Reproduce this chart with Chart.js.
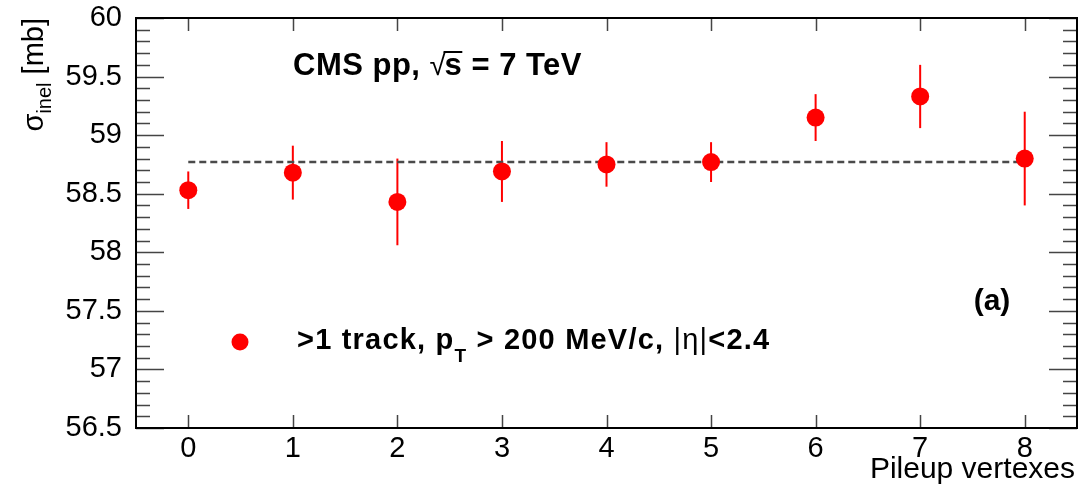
<!DOCTYPE html>
<html>
<head>
<meta charset="utf-8">
<script src="https://cdn.jsdelivr.net/npm/chart.js@4"></script>
<style>
  html, body { margin: 0; padding: 0; background: #fff; }
  #wrap { width: 1092px; height: 489px; }
</style>
</head>
<body>
<div id="wrap"><canvas id="xsec"></canvas></div>
<script>
// inelastic cross section vs number of pileup vertices
const pileup = [0, 1, 2, 3, 4, 5, 6, 7, 8];
const sigmaInel = [58.53, 58.68, 58.43, 58.69, 58.75, 58.77, 59.15, 59.33, 58.80];
const sigmaErr = [0.16, 0.23, 0.37, 0.26, 0.19, 0.17, 0.20, 0.27, 0.40];
const meanSigma = 58.77;

const xTicks = [0, 1, 2, 3, 4, 5, 6, 7, 8];
const yTicks = [56.5, 57, 57.5, 58, 58.5, 59, 59.5, 60];

const FONT = '"Liberation Sans", Arial, Helvetica, sans-serif';
const RED = "#ff0000";

// draws a list of [text, font, dy] pieces left to right
function drawRun(ctx, x, y, parts) {
  for (const [txt, font, dy] of parts) {
    ctx.font = font;
    ctx.fillText(txt, x, y + (dy || 0));
    x += ctx.measureText(txt).width;
  }
  return x;
}

// keep the plot frame fixed, no extra room for edge labels
function noPad(s) {
  s.paddingTop = s.paddingBottom = s.paddingLeft = s.paddingRight = 0;
}

const rootStyle = {
  id: "rootStyle",
  beforeDatasetsDraw(chart) {
    const { ctx } = chart;
    const xs = chart.scales.x, ys = chart.scales.y;
    ctx.save();
    ctx.strokeStyle = RED;
    ctx.lineWidth = 2;
    pileup.forEach((p, i) => {
      const px = xs.getPixelForValue(p);
      ctx.beginPath();
      ctx.moveTo(px, ys.getPixelForValue(sigmaInel[i] - sigmaErr[i]));
      ctx.lineTo(px, ys.getPixelForValue(sigmaInel[i] + sigmaErr[i]));
      ctx.stroke();
    });
    ctx.restore();
  },
  afterDraw(chart) {
    const { ctx, chartArea: a } = chart;
    const xs = chart.scales.x, ys = chart.scales.y;
    ctx.save();

    // tick marks inside the frame
    ctx.strokeStyle = "#444";
    ctx.lineWidth = 1.5;
    ctx.beginPath();
    for (let k = 0; k <= 35; k++) {
      const v = 56.5 + k * 0.1;
      const py = Math.round(ys.getPixelForValue(v)) + 0.5;
      const len = k % 5 === 0 ? 28 : 14;
      ctx.moveTo(a.left, py); ctx.lineTo(a.left + len, py);
      ctx.moveTo(a.right, py); ctx.lineTo(a.right - len, py);
    }
    xTicks.forEach(v => {
      const px = Math.round(xs.getPixelForValue(v)) + 0.5;
      ctx.moveTo(px, a.bottom); ctx.lineTo(px, a.bottom - 13);
      ctx.moveTo(px, a.top); ctx.lineTo(px, a.top + 13);
    });
    ctx.stroke();

    // frame
    ctx.strokeStyle = "#000";
    ctx.lineWidth = 2;
    ctx.strokeRect(a.left, a.top, a.right - a.left, a.bottom - a.top);

    ctx.fillStyle = "#000";
    ctx.textBaseline = "alphabetic";

    // axis titles
    ctx.font = "30px " + FONT;
    ctx.textAlign = "right";
    ctx.fillText("Pileup vertexes", 1075, 478);

    ctx.save();
    ctx.translate(43, a.top);
    ctx.rotate(-Math.PI / 2);
    ctx.textAlign = "left";
    const yParts = [["σ", "29px " + FONT, 0], ["inel", "20px " + FONT, 8], [" [mb]", "29px " + FONT, 0]];
    let w = 0;
    yParts.forEach(([t, f]) => { ctx.font = f; w += ctx.measureText(t).width; });
    drawRun(ctx, -w, 0, yParts);
    ctx.restore();

    // header
    ctx.textAlign = "left";
    ctx.letterSpacing = "0.5px";
    const bold = "bold 31px " + FONT;
    let x = drawRun(ctx, 293, 75, [["CMS pp, ", bold]]);
    ctx.font = "30px " + FONT;
    ctx.fillText("√", x, 75);
    x += ctx.measureText("√").width - 2;
    ctx.font = bold;
    const sw = ctx.measureText("s").width;
    ctx.fillText("s", x, 75);
    ctx.lineWidth = 2;
    ctx.beginPath();
    ctx.moveTo(x - 1, 52); ctx.lineTo(x + sw, 52);
    ctx.stroke();
    drawRun(ctx, x + sw, 75, [[" = 7 TeV", bold]]);
    ctx.letterSpacing = "0px";

    ctx.font = "bold 30px " + FONT;
    ctx.textAlign = "center";
    ctx.fillText("(a)", 992, 310);

    // legend
    ctx.fillStyle = RED;
    ctx.beginPath();
    ctx.arc(240, 342, 8.5, 0, Math.PI * 2);
    ctx.fill();
    ctx.fillStyle = "#000";
    ctx.textAlign = "left";
    ctx.letterSpacing = "1.2px";
    const lb = "bold 29px " + FONT;
    drawRun(ctx, 297, 349, [
      [">1 track, p", lb],
      ["T", "bold 19px " + FONT, 13],
      [" > 200 MeV/c, ", lb],
      ["|η|", "29px " + FONT],
      ["<2.4", lb]
    ]);
    ctx.letterSpacing = "0px";

    ctx.restore();
  }
};

new Chart(document.getElementById("xsec"), {
  type: "scatter",
  data: {
    datasets: [
      {
        label: ">1 track, pT > 200 MeV/c, |η|<2.4",
        data: pileup.map((p, i) => ({ x: p, y: sigmaInel[i] })),
        backgroundColor: RED,
        borderWidth: 0,
        pointRadius: 9,
        pointHoverRadius: 9,
        order: 1,
      },
      {
        type: "line",
        label: "mean",
        data: [{ x: pileup[0], y: meanSigma }, { x: pileup[pileup.length - 1], y: meanSigma }],
        borderColor: "#4a4a4a",
        borderWidth: 2.5,
        borderDash: [7, 4],
        pointRadius: 0,
        fill: false,
        order: 2,
      },
    ],
  },
  options: {
    responsive: true,
    maintainAspectRatio: false,
    animation: false,
    layout: { padding: { top: 18, right: 15, left: 0, bottom: 0 } },
    plugins: { legend: { display: false }, tooltip: { enabled: false } },
    scales: {
      x: {
        type: "linear",
        min: -0.5,
        max: 8.5,
        grid: { display: false, drawTicks: false },
        border: { display: false },
        afterBuildTicks: s => { s.ticks = xTicks.map(v => ({ value: v })); },
        afterFit: s => { s.height = 61; noPad(s); },
        ticks: {
          color: "#000",
          padding: 4,
          maxRotation: 0,
          font: { family: FONT, size: 29 },
          callback: v => String(v),
        },
      },
      y: {
        min: 56.5,
        max: 60,
        grid: { display: false, drawTicks: false },
        border: { display: false },
        afterBuildTicks: s => { s.ticks = yTicks.map(v => ({ value: v })); },
        afterFit: s => { s.width = 136; noPad(s); },
        ticks: {
          color: "#000",
          padding: 14,
          font: { family: FONT, size: 29 },
          callback: v => String(v),
        },
      },
    },
  },
  plugins: [rootStyle],
});
</script>
</body>
</html>
